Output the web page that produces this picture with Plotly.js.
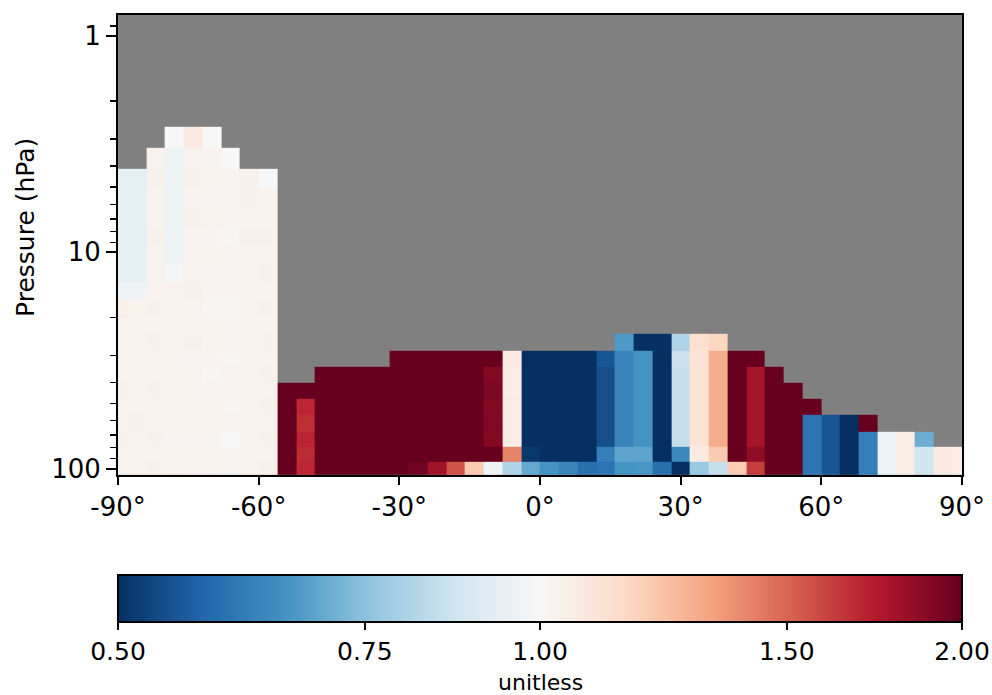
<!DOCTYPE html>
<html><head><meta charset="utf-8">
<script src="https://cdn.plot.ly/plotly-3.0.1.min.js"></script>
<style>html,body{margin:0;padding:0;background:#fff}#chart{width:992px;height:695px}</style>
</head><body><div id="chart"></div>
<script>
// latitude cell centres (deg)
const latitudes = [-90,-86,-82,-78,-74,-70,-66,-62,-58,-54,-50,-46,-42,-38,-34,-30,-26,-22,-18,-14,-10,-6,-2,2,6,10,14,18,22,26,30,34,38,42,46,50,54,58,62,66,70,74,78,82,86,90];
// pressure cell boundaries (hPa), from the lowest level upward
const pressureBounds = [107.1,92.9,79.2,67.4,56.5,47.8,40.3,33.8,28.4,23.8,19.9,16.5,13.7,11.3,9.38,7.72,6.31,5.11,4.12,3.28,2.63];
// ratio values per latitude column, lowest level first (missing levels above omitted)
const ratioByLat = [
  [1.03,1.03,1.035,1.03,1.03,1.035,1.03,1.03,1.03,1.03,1.04,0.97,0.94,0.94,0.94,0.94,0.94,0.94],
  [1.03,1.03,1.03,1.035,1.03,1.03,1.03,1.03,1.03,1.03,1.03,0.97,0.94,0.94,0.94,0.94,0.94,0.94],
  [1.035,1.03,1.035,1.03,1.03,1.035,1.03,1.03,1.035,1.03,1.035,1.03,1.03,1.03,1.035,1.03,1.03,1.035,1.03],
  [1.025,1.03,1.02,1.03,1.025,1.03,1.025,1.03,1.025,1.03,1.025,1.03,0.985,0.965,0.965,0.965,0.965,0.965,0.965,1.0],
  [1.03,1.03,1.025,1.03,1.03,1.025,1.03,1.02,1.04,1.03,1.03,1.035,1.03,1.03,1.03,1.035,1.03,1.035,1.03,1.07],
  [1.025,1.025,1.02,1.025,1.025,1.02,1.015,1.02,1.025,1.025,1.015,1.02,1.02,1.025,1.02,1.025,1.02,1.025,1.02,1.0],
  [1.02,1.02,1.0,1.02,1.015,1.02,1.02,1.015,1.02,1.02,1.015,1.02,1.02,1.02,1.015,1.02,1.02,1.02,1.0],
  [1.03,1.03,1.03,1.025,1.03,1.03,1.03,1.03,1.025,1.03,1.03,1.03,1.03,1.03,1.035,1.03,1.035,1.035],
  [1.035,1.03,1.035,1.03,1.035,1.03,1.035,1.03,1.035,1.03,1.035,1.03,1.035,1.03,1.035,1.03,1.03,1.0],
  [2.6,2.7,2.8,2.9,3.0,3.1],
  [1.69,1.68,1.7,1.67,1.69,2.4],
  [2.8,2.9,3.0,3.1,3.2,3.3,3.4],
  [2.9,3.0,3.1,3.2,3.3,3.4,3.5],
  [2.8,2.9,3.0,3.1,3.2,3.3,3.4],
  [2.7,2.8,2.9,3.0,3.1,3.2,3.3],
  [2.3,2.6,2.7,2.8,2.9,3.0,3.1,3.2],
  [1.97,2.4,2.6,2.7,2.8,2.9,3.0,3.1],
  [1.8,2.3,2.5,2.6,2.7,2.8,2.9,3.0],
  [1.55,2.2,2.4,2.5,2.6,2.7,2.8,2.9],
  [1.2,2.1,2.3,2.4,2.5,2.6,2.7,2.8],
  [0.97,2.3,1.9,1.91,1.9,1.92,1.9,2.2],
  [0.81,1.41,1.055,1.05,1.055,1.05,1.055,1.065],
  [0.7,0.51,0.45,0.44,0.43,0.42,0.43,0.44],
  [0.66,0.47,0.44,0.43,0.42,0.41,0.42,0.43],
  [0.63,0.46,0.44,0.43,0.42,0.41,0.42,0.43],
  [0.59,0.47,0.45,0.44,0.43,0.42,0.43,0.44],
  [0.6,0.62,0.54,0.54,0.54,0.54,0.54,0.55],
  [0.66,0.69,0.63,0.63,0.63,0.63,0.63,0.63,0.67],
  [0.665,0.69,0.66,0.66,0.66,0.66,0.66,0.66,0.45],
  [0.59,0.47,0.45,0.44,0.43,0.44,0.45,0.46,0.45],
  [0.5,0.64,0.85,0.85,0.85,0.85,0.85,0.86,0.81],
  [0.77,1.066,1.1,1.1,1.1,1.1,1.1,1.1,1.115],
  [0.85,1.2,1.29,1.29,1.29,1.29,1.29,1.29,1.16],
  [1.19,2.3,2.5,2.6,2.7,2.8,2.9,3.0],
  [1.62,1.85,1.78,1.78,1.78,1.78,1.78,2.4],
  [2.2,2.4,2.5,2.6,2.7,2.8,2.9],
  [2.2,2.4,2.5,2.6,2.7,2.8],
  [0.6,0.6,0.6,0.6,2.3],
  [0.55,0.55,0.55,0.55],
  [0.48,0.48,0.48,0.48],
  [0.62,0.62,0.62,2.2],
  [0.96,0.96,0.96],
  [1.055,1.055,1.055],
  [0.87,0.87,0.71],
  [1.065,1.065],
  [1.055,1.055]
];
const cbTickValues = [0.5,0.75,1.0,1.5,2.0];
const cbTickLabels = ['0.50','0.75','1.00','1.50','2.00'];
const latTicks = [-90,-60,-30,0,30,60,90];
const latTickLabels = ['-90°','-60°','-30°','0°','30°','60°','90°'];

const nLev = pressureBounds.length - 1;
const zLog = ratioByLat.map(col => {
  const out = [];
  for (let i = 0; i < nLev; i++) out.push(i < col.length ? Math.log2(col[i]) : null);
  return out;
});

const rdbu_r = [
  [0.0,'#053061'],[0.1,'#2166ac'],[0.2,'#4393c3'],[0.3,'#92c5de'],[0.4,'#d1e5f0'],
  [0.5,'#f7f7f7'],[0.6,'#fddbc7'],[0.7,'#f4a582'],[0.8,'#d6604d'],[0.9,'#b2182b'],[1.0,'#67001f']
];
const FONT = 'DejaVu Sans, sans-serif';

const trace = {
  type: 'heatmap',
  x: latitudes,
  y: pressureBounds,
  z: zLog,
  transpose: true,
  zmin: -1, zmax: 1,
  colorscale: rdbu_r,
  hoverinfo: 'skip',
  colorbar: {
    orientation: 'h',
    thickness: 47, thicknessmode: 'pixels',
    len: 1, lenmode: 'fraction',
    x: 0.5, xanchor: 'center',
    y: -0.2174, yanchor: 'top', yref: 'paper',
    xpad: 0, ypad: 0,
    outlinewidth: 2, outlinecolor: '#000',
    tickmode: 'array',
    tickvals: cbTickValues.map(v => Math.log2(v)),
    ticktext: cbTickLabels,
    ticks: 'outside', ticklen: 7, tickwidth: 2, tickcolor: '#000',
    tickfont: {family: FONT, size: 25, color: '#000'}
  }
};

const layout = {
  width: 992, height: 695,
  margin: {l: 118, r: 30, t: 15, b: 220, autoexpand: false},
  paper_bgcolor: '#fff',
  plot_bgcolor: '#808080',
  showlegend: false,
  xaxis: {
    range: [-90, 90],
    tickmode: 'array', tickvals: latTicks, ticktext: latTickLabels,
    ticks: 'outside', ticklen: 8, tickwidth: 2, tickcolor: '#000',
    showline: true, linewidth: 2, linecolor: '#000', mirror: true,
    showgrid: false, zeroline: false,
    tickfont: {family: FONT, size: 26, color: '#000'}
  },
  yaxis: {
    type: 'log',
    range: [Math.log10(107.1), Math.log10(0.8)],
    tickmode: 'array', tickvals: [1, 10, 100], ticktext: ['1','10','100'],
    ticks: 'outside', ticklen: 10, tickwidth: 2, tickcolor: '#000',
    minor: {
      tickmode: 'array',
      tickvals: [0.9,2,3,4,5,6,7,8,9,20,30,40,50,60,70,80,90],
      ticks: 'outside', ticklen: 6, tickwidth: 1.5, tickcolor: '#000', showgrid: false
    },
    showline: true, linewidth: 2, linecolor: '#000', mirror: true,
    showgrid: false, zeroline: false,
    tickfont: {family: FONT, size: 26, color: '#000'}
  },
  annotations: [
    {text: 'Pressure (hPa)', xref: 'paper', yref: 'paper', x: -0.109, y: 0.537,
     xanchor: 'center', yanchor: 'middle', textangle: -90, showarrow: false,
     font: {family: FONT, size: 25, color: '#000'}},
    {text: 'unitless', xref: 'paper', yref: 'paper', x: 0.5, y: -0.452,
     xanchor: 'center', yanchor: 'middle', showarrow: false,
     font: {family: FONT, size: 22, color: '#000'}}
  ]
};

Plotly.newPlot('chart', [trace], layout, {displayModeBar: false, staticPlot: true});
</script>
</body></html>
